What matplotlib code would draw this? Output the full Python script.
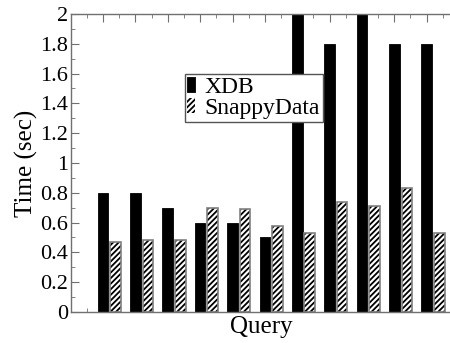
import numpy as np
import matplotlib
matplotlib.use('Agg')
import matplotlib.pyplot as plt
from matplotlib.ticker import MultipleLocator

plt.rcParams['font.family'] = ['Liberation Serif', 'DejaVu Serif']
plt.rcParams['hatch.linewidth'] = 1.3

# values (XDB bars at 2.0 are clipped at the top)
queries = list(range(11))
xdb = [0.8, 0.8, 0.7, 0.6, 0.6, 0.5, 2.3, 1.8, 2.3, 1.8, 1.8]
snappy = [0.47, 0.48, 0.48, 0.70, 0.69, 0.58, 0.53, 0.74, 0.71, 0.83, 0.53]
yticks = [0, 0.2, 0.4, 0.6, 0.8, 1.0, 1.2, 1.4, 1.6, 1.8, 2.0]
ytick_labels = ['0', '0.2', '0.4', '0.6', '0.8', '1', '1.2', '1.4', '1.6', '1.8', '2']

fig = plt.figure(figsize=(4.5, 3.43), dpi=100)
ax = fig.add_axes([0.158, 0.0904, 0.846, 0.8688])

x = np.array(queries)
w = 0.33
ax.bar(x, xdb, w, color='black', edgecolor='black', linewidth=0.6, label='XDB', zorder=2)
# hatch drawn in black, then a grey outline on top
ax.bar(x + 0.39, snappy, w, color='white', edgecolor='black', hatch='//////',
       linewidth=0, label='SnappyData', zorder=2)
ax.bar(x + 0.39, snappy, w, fill=False, edgecolor='#808080', linewidth=1.2, zorder=2.1)

ax.set_xlim(-0.99, 10.78)
ax.set_ylim(0, 2)
ax.set_axisbelow(True)

spine_c = '#707070'
for s in ['left', 'top', 'bottom']:
    ax.spines[s].set_color(spine_c)
    ax.spines[s].set_linewidth(1.0)
ax.spines['right'].set_visible(False)

ax.set_yticks(yticks)
ax.set_yticklabels(ytick_labels)
ax.yaxis.set_minor_locator(MultipleLocator(0.1))
ax.xaxis.set_major_locator(MultipleLocator(1))
ax.xaxis.set_minor_locator(MultipleLocator(0.5))
ax.tick_params(axis='x', which='both', top=True, bottom=True, direction='in',
               labelbottom=False, color=spine_c)
ax.tick_params(axis='x', which='major', length=6)
ax.tick_params(axis='x', which='minor', length=3)
ax.tick_params(axis='y', which='both', right=False, direction='in', color=spine_c,
               labelsize=16, pad=2)
ax.tick_params(axis='y', which='major', length=6)
ax.tick_params(axis='y', which='minor', length=3)

ax.set_ylabel('Time (sec)', fontsize=18, labelpad=2)
ax.set_xlabel('Query', fontsize=18, labelpad=3)

leg = ax.legend(loc='upper left', bbox_to_anchor=(0.298, 0.799), borderaxespad=0,
                fontsize=17, fancybox=False, framealpha=1, edgecolor='#555555',
                handlelength=0.33, handleheight=0.6, handletextpad=0.4,
                labelspacing=0.0, borderpad=0.12)
leg.get_frame().set_linewidth(1.0)

fig.savefig('out.png', dpi=100)
